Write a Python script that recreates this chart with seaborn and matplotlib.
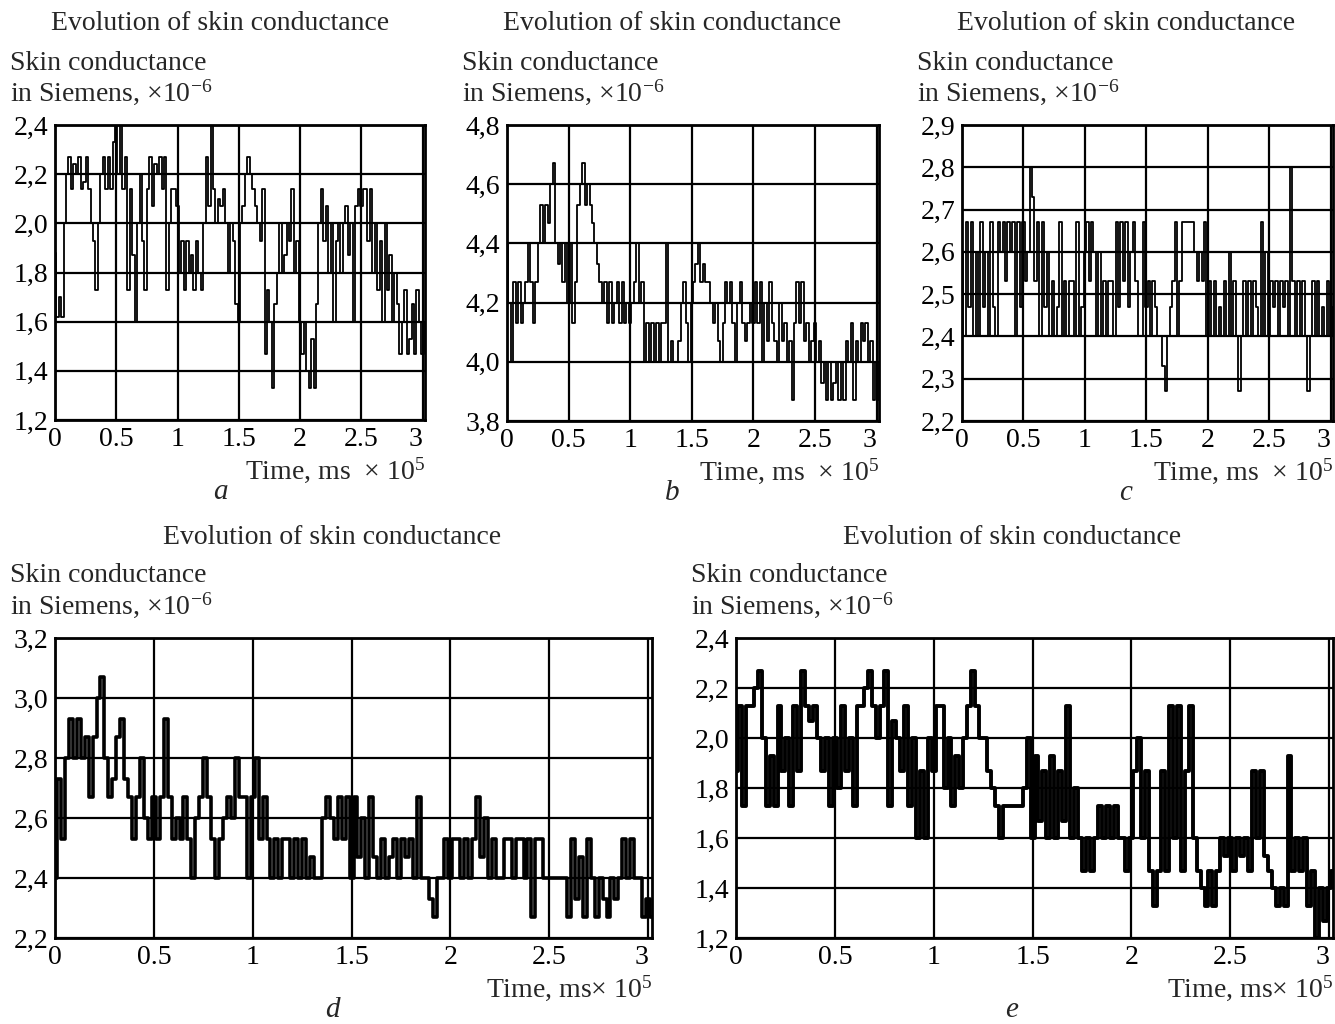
import numpy as np
import matplotlib
matplotlib.use("Agg")
import matplotlib.pyplot as plt
import seaborn as sns

# values, one sample every 0.02 (x 10^5 ms)
cond_a = [1.88, 1.62, 1.70, 1.62, 2.00, 2.20, 2.27, 2.14, 2.24, 2.20,
          2.27, 2.14, 2.17, 2.27, 2.14, 2.00, 1.93, 1.73, 2.00, 2.20,
          2.27, 2.14, 2.27, 2.14, 2.33, 2.40, 2.20, 2.40, 2.14, 2.27,
          1.73, 2.14, 1.87, 1.60, 2.00, 2.20, 1.93, 1.73, 2.14, 2.27,
          2.07, 2.24, 2.20, 2.27, 2.14, 2.27, 1.73, 2.00, 2.14, 2.14,
          2.07, 1.80, 1.93, 1.73, 1.93, 1.80, 1.87, 1.73, 1.93, 1.80,
          1.73, 2.00, 2.27, 2.07, 2.40, 2.14, 2.00, 2.10, 2.07, 2.14,
          2.00, 1.80, 2.00, 1.93, 1.67, 1.60, 2.00, 2.07, 2.20, 2.27,
          2.20, 2.14, 2.07, 2.00, 1.93, 2.14, 1.47, 1.73, 1.60, 1.33,
          1.67, 1.80, 2.00, 1.80, 1.87, 2.00, 1.93, 2.14, 1.80, 1.93,
          1.60, 1.47, 1.60, 1.40, 1.33, 1.53, 1.33, 1.67, 2.00, 2.14,
          1.93, 2.07, 1.80, 2.00, 1.60, 1.93, 2.00, 1.80, 2.00, 2.07,
          1.87, 2.00, 1.60, 2.07, 2.14, 2.07, 2.14, 2.14, 1.93, 2.14,
          1.80, 2.00, 1.73, 1.93, 1.60, 2.00, 1.73, 1.87, 1.60, 1.80,
          1.67, 1.47, 1.60, 1.73, 1.47, 1.53, 1.67, 1.47, 1.73, 1.60,
          1.47, 1.60]

cond_b = [4.40, 4.20, 4.00, 4.27, 4.13, 4.27, 4.13, 4.20, 4.27, 4.40,
          4.27, 4.13, 4.27, 4.40, 4.53, 4.40, 4.53, 4.47, 4.60, 4.67,
          4.40, 4.33, 4.40, 4.27, 4.40, 4.20, 4.40, 4.13, 4.27, 4.53,
          4.60, 4.67, 4.53, 4.60, 4.53, 4.47, 4.40, 4.33, 4.27, 4.20,
          4.27, 4.13, 4.27, 4.13, 4.20, 4.27, 4.13, 4.27, 4.13, 4.20,
          4.13, 4.20, 4.27, 4.40, 4.20, 4.27, 4.00, 4.13, 4.00, 4.13,
          4.00, 4.13, 4.00, 4.13, 4.13, 4.40, 4.00, 4.07, 4.00, 4.00,
          4.07, 4.20, 4.27, 4.13, 4.00, 4.20, 4.27, 4.33, 4.40, 4.27,
          4.33, 4.27, 4.27, 4.20, 4.13, 4.20, 4.07, 4.00, 4.13, 4.27,
          4.20, 4.27, 4.13, 4.00, 4.20, 4.27, 4.13, 4.07, 4.13, 4.20,
          4.13, 4.27, 4.13, 4.27, 4.00, 4.20, 4.07, 4.27, 4.13, 4.07,
          4.00, 4.20, 4.07, 4.13, 4.00, 4.07, 3.87, 4.13, 4.27, 4.13,
          4.27, 4.07, 4.13, 4.00, 4.07, 4.13, 4.00, 4.07, 3.93, 4.00,
          3.87, 4.00, 3.87, 3.93, 4.00, 3.87, 4.00, 3.87, 4.07, 4.00,
          4.13, 3.87, 4.07, 4.00, 4.13, 4.07, 4.13, 4.00, 4.07, 3.87,
          4.00, 3.87]

cond_c = [2.60, 2.40, 2.67, 2.47, 2.67, 2.40, 2.60, 2.40, 2.67, 2.47,
          2.60, 2.40, 2.67, 2.47, 2.40, 2.67, 2.60, 2.67, 2.53, 2.67,
          2.60, 2.67, 2.40, 2.67, 2.47, 2.67, 2.53, 2.60, 2.80, 2.73,
          2.53, 2.67, 2.40, 2.67, 2.47, 2.60, 2.40, 2.53, 2.40, 2.47,
          2.67, 2.40, 2.53, 2.40, 2.53, 2.53, 2.40, 2.67, 2.40, 2.47,
          2.60, 2.67, 2.53, 2.67, 2.60, 2.40, 2.60, 2.40, 2.53, 2.40,
          2.53, 2.53, 2.40, 2.67, 2.47, 2.67, 2.53, 2.67, 2.47, 2.60,
          2.67, 2.53, 2.40, 2.40, 2.67, 2.47, 2.53, 2.40, 2.53, 2.47,
          2.40, 2.40, 2.33, 2.27, 2.40, 2.47, 2.53, 2.67, 2.40, 2.53,
          2.67, 2.67, 2.67, 2.67, 2.67, 2.60, 2.53, 2.60, 2.53, 2.67,
          2.40, 2.53, 2.40, 2.53, 2.40, 2.47, 2.40, 2.53, 2.40, 2.60,
          2.40, 2.53, 2.40, 2.27, 2.40, 2.53, 2.40, 2.53, 2.40, 2.53,
          2.47, 2.40, 2.67, 2.40, 2.60, 2.40, 2.53, 2.47, 2.53, 2.40,
          2.53, 2.47, 2.53, 2.40, 2.80, 2.53, 2.40, 2.53, 2.40, 2.53,
          2.40, 2.27, 2.40, 2.53, 2.40, 2.53, 2.40, 2.47, 2.40, 2.53,
          2.40, 2.47]

cond_d = [2.40, 2.73, 2.53, 2.80, 2.93, 2.80, 2.93, 2.80, 2.87, 2.67,
          2.87, 3.00, 3.07, 2.80, 2.67, 2.73, 2.87, 2.93, 2.73, 2.67,
          2.53, 2.67, 2.80, 2.60, 2.53, 2.67, 2.53, 2.67, 2.93, 2.67,
          2.53, 2.60, 2.53, 2.67, 2.53, 2.40, 2.60, 2.67, 2.80, 2.67,
          2.53, 2.40, 2.53, 2.60, 2.67, 2.60, 2.80, 2.67, 2.67, 2.40,
          2.67, 2.80, 2.53, 2.67, 2.53, 2.40, 2.53, 2.40, 2.53, 2.53,
          2.40, 2.53, 2.40, 2.53, 2.40, 2.47, 2.40, 2.40, 2.60, 2.67,
          2.60, 2.53, 2.67, 2.53, 2.67, 2.40, 2.67, 2.47, 2.60, 2.40,
          2.67, 2.47, 2.40, 2.53, 2.40, 2.47, 2.53, 2.40, 2.53, 2.47,
          2.53, 2.40, 2.67, 2.40, 2.40, 2.33, 2.27, 2.40, 2.40, 2.53,
          2.40, 2.53, 2.53, 2.40, 2.53, 2.40, 2.53, 2.67, 2.47, 2.60,
          2.40, 2.53, 2.40, 2.40, 2.53, 2.53, 2.40, 2.53, 2.53, 2.40,
          2.53, 2.27, 2.53, 2.53, 2.40, 2.40, 2.40, 2.40, 2.40, 2.40,
          2.27, 2.53, 2.33, 2.47, 2.27, 2.53, 2.40, 2.27, 2.40, 2.33,
          2.27, 2.40, 2.33, 2.40, 2.53, 2.40, 2.53, 2.40, 2.40, 2.27,
          2.33, 2.27]

cond_e = [1.87, 2.13, 1.73, 2.13, 2.13, 2.20, 2.27, 2.00, 1.73, 1.93,
          1.73, 2.13, 1.87, 2.00, 1.73, 2.13, 1.87, 2.27, 2.13, 2.07,
          2.13, 2.00, 1.87, 2.00, 1.73, 2.00, 1.80, 2.13, 1.87, 2.00,
          1.73, 2.13, 2.13, 2.20, 2.27, 2.13, 2.00, 2.13, 2.27, 1.73,
          2.07, 2.00, 1.87, 2.13, 1.73, 2.00, 1.60, 1.87, 1.60, 2.00,
          1.87, 2.13, 2.13, 1.80, 2.00, 1.73, 1.93, 1.80, 2.00, 2.13,
          2.27, 2.13, 2.00, 2.00, 1.87, 1.80, 1.73, 1.60, 1.73, 1.73,
          1.73, 1.73, 1.73, 1.80, 2.00, 1.60, 1.93, 1.67, 1.87, 1.60,
          1.93, 1.60, 1.87, 1.67, 2.13, 1.60, 1.80, 1.60, 1.47, 1.60,
          1.47, 1.60, 1.73, 1.60, 1.73, 1.60, 1.73, 1.60, 1.60, 1.47,
          1.60, 1.87, 2.00, 1.60, 1.87, 1.47, 1.33, 1.47, 1.87, 1.47,
          2.13, 1.60, 2.13, 1.47, 1.87, 2.13, 1.60, 1.47, 1.40, 1.33,
          1.47, 1.33, 1.47, 1.60, 1.53, 1.60, 1.47, 1.60, 1.53, 1.60,
          1.47, 1.87, 1.60, 1.87, 1.53, 1.47, 1.40, 1.33, 1.40, 1.33,
          1.93, 1.47, 1.60, 1.47, 1.60, 1.33, 1.47, 1.20, 1.40, 1.27,
          1.40, 1.47]

x_ticks = [0, 0.5, 1, 1.5, 2, 2.5, 3]
x_labels = ["0", "0.5", "1", "1.5", "2", "2.5", "3"]
y_ticks_a = [1.2, 1.4, 1.6, 1.8, 2.0, 2.2, 2.4]
y_labels_a = ["1,2", "1,4", "1,6", "1,8", "2,0", "2,2", "2,4"]
y_ticks_b = [3.8, 4.0, 4.2, 4.4, 4.6, 4.8]
y_labels_b = ["3,8", "4,0", "4,2", "4,4", "4,6", "4,8"]
y_ticks_c = [2.2, 2.3, 2.4, 2.5, 2.6, 2.7, 2.8, 2.9]
y_labels_c = ["2,2", "2,3", "2,4", "2,5", "2,6", "2,7", "2,8", "2,9"]
y_ticks_d = [2.2, 2.4, 2.6, 2.8, 3.0, 3.2]
y_labels_d = ["2,2", "2,4", "2,6", "2,8", "3,0", "3,2"]
y_ticks_e = [1.2, 1.4, 1.6, 1.8, 2.0, 2.2, 2.4]
y_labels_e = ["1,2", "1,4", "1,6", "1,8", "2,0", "2,2", "2,4"]
letters = ["a", "b", "c", "d", "e"]

sns.set_theme(style="white")
plt.rcParams['font.family'] = ['Liberation Serif', 'DejaVu Serif']
plt.rcParams['mathtext.fontset'] = 'custom'
plt.rcParams['mathtext.rm'] = 'Liberation Serif'
plt.rcParams['mathtext.it'] = 'Liberation Serif:italic'

W, H = 1335, 1024
fig = plt.figure(figsize=(W / 100, H / 100), dpi=100)
fs = 20


def px(x, y):
    return x / W, 1 - y / H


# axes boxes in pixels: left, top, right, bottom
boxes = [(55, 125, 425, 420), (507, 125, 879, 421), (962, 125, 1333, 421),
         (55, 638, 652, 938), (736, 638, 1333, 938)]
centers = [220, 672, 1126, 332, 1012]
series = [cond_a, cond_b, cond_c, cond_d, cond_e]
yticks = [(y_ticks_a, y_labels_a), (y_ticks_b, y_labels_b), (y_ticks_c, y_labels_c),
          (y_ticks_d, y_labels_d), (y_ticks_e, y_labels_e)]
lws = [1.3, 1.3, 1.3, 2.6, 2.8]

for i, (l, t, r, b) in enumerate(boxes):
    ax = fig.add_axes([l / W, 1 - b / H, (r - l) / W, (b - t) / H])
    vals = series[i]
    time = np.arange(len(vals)) * 0.02
    sns.lineplot(x=time, y=vals, ax=ax, color="black", lw=lws[i],
                 drawstyle="steps-mid", sort=False)
    yt, yl = yticks[i]
    ax.set_xlim(0, 3.02)
    ax.set_ylim(yt[0], yt[-1])
    ax.set_xticks(x_ticks)
    ax.set_xticklabels(x_labels)
    ax.get_xticklabels()[-1].set_ha("right")
    ax.set_yticks(yt)
    ax.set_yticklabels(yl)
    ax.tick_params(length=0, labelsize=fs, colors="black", pad=5)
    ax.grid(True, color="black", lw=1.6)
    for sp in ax.spines.values():
        sp.set_color("black")
        sp.set_linewidth(2)
    ax.set_xlabel("")
    ax.set_ylabel("")

    top_row = i < 3
    cx = centers[i]
    ty = 24 if top_row else 537
    fig.text(*px(cx, ty), "Evolution of skin conductance", fontsize=fs,
             ha="center", va="center")
    fig.text(*px(l - 45, ty + 39), "Skin conductance", fontsize=fs,
             ha="left", va="center")
    fig.text(*px(l - 45, ty + 68), r"in Siemens, $\times$10$^{-6}$",
             fontsize=fs, ha="left", va="center")
    time_txt = r"Time, ms  $\times$ 10$^{5}$" if top_row else r"Time, ms$\times$ 10$^{5}$"
    fig.text(*px(r, b + 50), time_txt, fontsize=fs, ha="right", va="center")
    fig.text(*px(cx, b + 72), letters[i], fontsize=fs + 1, style="italic",
             ha="center", va="center")

fig.savefig("out.png", dpi=100)
